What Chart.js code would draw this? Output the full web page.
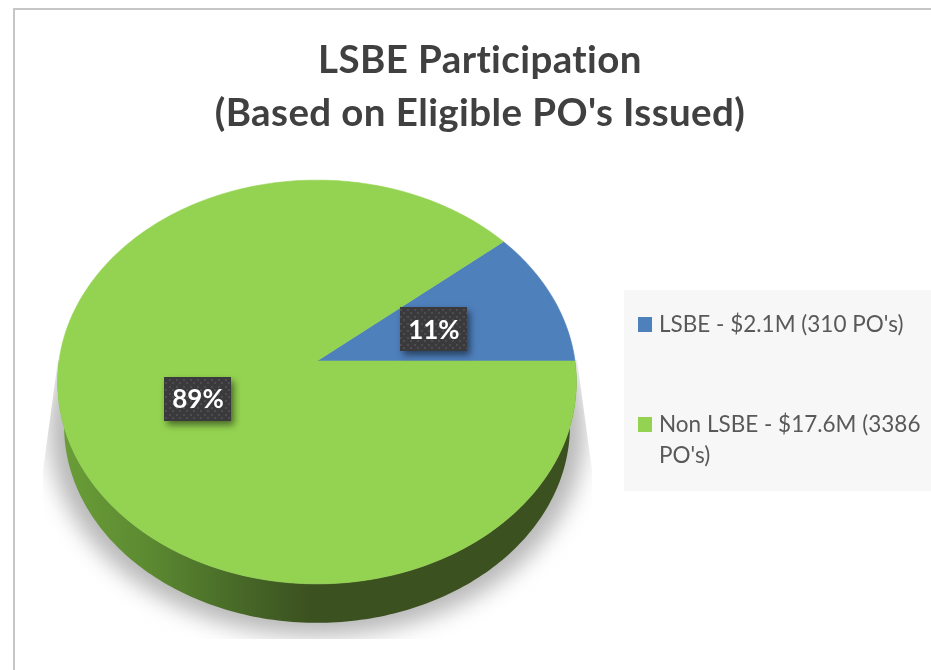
<!DOCTYPE html>
<html>
<head>
<meta charset="utf-8">
<style>
html,body{margin:0;padding:0;background:#fff;overflow:hidden}
#wrap{width:931px;height:670px;position:relative}
canvas{display:block;filter:blur(0.45px)}
</style>
<script src="https://cdn.jsdelivr.net/npm/chart.js@4/dist/chart.umd.min.js"></script>
</head>
<body>
<div id="wrap"><canvas id="c" width="931" height="670"></canvas></div>
<script>
const titleLines = ["LSBE Participation", "(Based on Eligible PO's Issued)"];
const categories = ["LSBE", "Non LSBE"];
const legendLines = [["LSBE - $2.1M (310 PO's)"], ["Non LSBE - $17.6M (3386", "PO's)"]];
const shares = [11, 89];
const sliceColors = ["#4e80bc", "#94d351"];

const TILT = 0.774, PERSP = 0.104;
const AREA = {left:59, top:103, right:575, bottom:619, width:516, height:516};
const DEG = Math.PI / 180;

function project(a, frac, ang) {
  const u = Math.cos(ang) * frac, v = Math.sin(ang) * frac, d = 1 - PERSP * v;
  return [a.x + a.outerRadius * u / d, a.y + a.outerRadius * TILT * v / d];
}
function arcSamples(a, s, e) {
  const pts = [], n = Math.max(2, Math.ceil(Math.abs(e - s) / DEG));
  for (let i = 0; i <= n; i++) pts.push(project(a, 1, s + (e - s) * i / n));
  return pts;
}
Chart.ArcElement.prototype.draw = function (ctx) {
  const a = this.getProps(['x', 'y', 'startAngle', 'endAngle', 'outerRadius']);
  const c = this.options.backgroundColor;
  ctx.save();
  ctx.beginPath();
  ctx.moveTo(a.x, a.y);
  arcSamples(a, a.startAngle, a.endAngle).forEach(p => ctx.lineTo(p[0], p[1]));
  ctx.closePath();
  ctx.fillStyle = c; ctx.fill();
  ctx.strokeStyle = c; ctx.lineWidth = 0.6; ctx.stroke();
  ctx.restore();
};

const pieDecor = {
  id: 'pieDecor',
  afterLayout(chart) {
    chart.chartArea = Object.assign({}, AREA);
    const t = chart.titleBlock;
    t.left = 30; t.right = 930; t.top = 34.5; t.bottom = 140;
  },
  beforeDraw(chart) {
    const ctx = chart.ctx;
    ctx.save();
    ctx.fillStyle = '#c6c6c6';
    ctx.fillRect(13, 8, 918, 2);
    ctx.fillRect(13, 8, 2, 662);
    ctx.fillStyle = '#f7f7f7';
    ctx.fillRect(624, 290, 307, 201);
    ctx.restore();
    // tracking for the title; a non-zero value also switches off the "ti" ligature
    ctx.letterSpacing = '0.4px';
  },
  beforeDatasetsDraw(chart) {
    const ctx = chart.ctx, arcs = chart.getDatasetMeta(0).data;
    ctx.letterSpacing = '0px';
    const a0 = arcs[0].getProps(['x', 'y', 'outerRadius']);
    // the shadow below the disc
    ctx.save();
    ctx.beginPath();
    ctx.moveTo(58, 360); ctx.lineTo(43, 470); ctx.lineTo(43, 639);
    ctx.lineTo(592, 639); ctx.lineTo(592, 470); ctx.lineTo(577, 360);
    ctx.closePath(); ctx.clip();
    ctx.filter = 'blur(11px)';
    ctx.fillStyle = '#b8b8b8';
    ctx.beginPath();
    ctx.ellipse(a0.x, 430, 268, 206, 0, 0, Math.PI * 2);
    ctx.fill();
    ctx.restore();
    // the side wall of the disc
    const cyE = a0.y + 21, scale = 0.975, drop = 44;
    const lower = p => [a0.x + (p[0] - a0.x) * scale, cyE + (p[1] - cyE) * scale + drop];
    const g = ctx.createLinearGradient(60, 0, 310, 0);
    g.addColorStop(0, '#6a9e38');
    g.addColorStop(0.35, '#5c8a31');
    g.addColorStop(0.7, '#486a28');
    g.addColorStop(1, '#3c5120');
    ctx.save();
    ctx.fillStyle = g;
    arcs.forEach(el => {
      const a = el.getProps(['x', 'y', 'startAngle', 'endAngle', 'outerRadius']);
      const ranges = [[a.startAngle, a.endAngle], [a.startAngle - 2 * Math.PI, a.endAngle - 2 * Math.PI]];
      ranges.forEach(r => {
        const s = Math.max(r[0], 0), e = Math.min(r[1], Math.PI);
        if (e <= s) return;
        const top = arcSamples(a, s, e), bot = top.map(lower).reverse();
        ctx.beginPath();
        top.concat(bot).forEach((p, i) => i ? ctx.lineTo(p[0], p[1]) : ctx.moveTo(p[0], p[1]));
        ctx.closePath();
        ctx.fill();
      });
    });
    ctx.restore();
  },
  afterDatasetsDraw(chart) {
    const ctx = chart.ctx, arcs = chart.getDatasetMeta(0).data;
    // dotted pattern of the value boxes
    const tile = document.createElement('canvas');
    tile.width = 7; tile.height = 7;
    const tc = tile.getContext('2d');
    tc.fillStyle = '#3a3a3c'; tc.fillRect(0, 0, 7, 7);
    tc.fillStyle = '#4d4d4f'; tc.fillRect(1, 1, 2, 2); tc.fillRect(4, 4, 2, 2);
    const pat = ctx.createPattern(tile, 'repeat');
    const total = shares.reduce((s, v) => s + v, 0);
    const nudge = [[0, 0], [2, 3]];
    arcs.forEach((el, i) => {
      const a = el.getProps(['x', 'y', 'startAngle', 'endAngle', 'outerRadius']);
      const p = project(a, 0.49, (a.startAngle + a.endAngle) / 2);
      p[0] += nudge[i][0]; p[1] += nudge[i][1];
      const w = 67, h = 44;
      ctx.save();
      ctx.shadowColor = 'rgba(0,0,0,0.5)';
      ctx.shadowBlur = 7; ctx.shadowOffsetX = 3; ctx.shadowOffsetY = 4;
      ctx.fillStyle = pat;
      ctx.fillRect(Math.round(p[0] - w / 2), Math.round(p[1] - h / 2 + 1), w, h);
      ctx.restore();
      ctx.save();
      ctx.fillStyle = '#ffffff';
      ctx.font = 'bold 26px Lato';
      ctx.textAlign = 'center'; ctx.textBaseline = 'middle';
      ctx.fillText(Math.round(shares[i] / total * 100) + '%', p[0], p[1] + 2);
      ctx.restore();
    });
    // legend
    ctx.save();
    ctx.textBaseline = 'alphabetic';
    ctx.font = '22.5px Lato';
    const rows = [332, 432];
    categories.forEach((c, i) => {
      ctx.fillStyle = sliceColors[i];
      ctx.fillRect(638, rows[i] - 15, 14, 15);
      ctx.fillStyle = '#595959';
      legendLines[i].forEach((t, j) => ctx.fillText(t, 659, rows[i] + j * 31));
    });
    ctx.restore();
  }
};

new Chart(document.getElementById('c'), {
  type: 'pie',
  data: {
    labels: categories,
    datasets: [{ data: shares, backgroundColor: sliceColors, borderWidth: 0 }]
  },
  plugins: [pieDecor],
  options: {
    responsive: false,
    animation: false,
    rotation: 50.4,
    plugins: {
      legend: { display: false },
      tooltip: { enabled: false },
      title: {
        display: true,
        text: titleLines,
        color: '#404040',
        padding: 0,
        font: { family: 'Lato', size: 38.5, weight: 'bold', lineHeight: 1.37 }
      }
    }
  }
});
</script>
</body>
</html>
